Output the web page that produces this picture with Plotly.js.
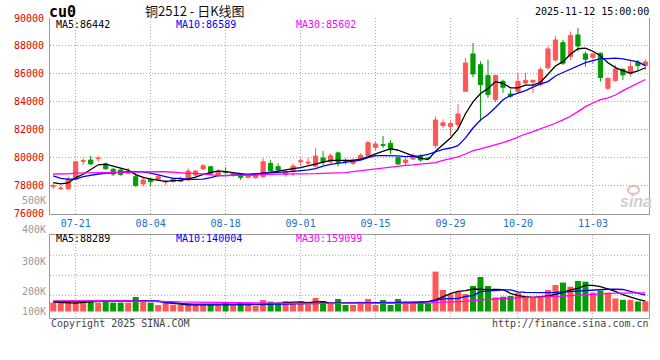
<!DOCTYPE html>
<html><head><meta charset="utf-8">
<script src="https://cdn.plot.ly/plotly-3.0.1.min.js"></script>
<style>html,body{margin:0;padding:0;background:#fff;}#chart{width:660px;height:360px;}</style>
</head><body><div id="chart"></div>
<script>
// ---------- data ----------
const dates = ['07-16','07-17','07-18','07-21','07-22','07-23','07-24','07-25','07-28','07-29','07-30','07-31',
'08-01','08-04','08-05','08-06','08-07','08-08','08-11','08-12','08-13','08-14','08-15','08-18','08-19','08-20','08-21','08-22','08-25','08-26','08-27','08-28','08-29',
'09-01','09-02','09-03','09-04','09-05','09-08','09-09','09-10','09-11','09-12','09-15','09-16','09-17','09-18','09-19','09-22','09-23','09-24','09-25','09-26','09-29','09-30',
'10-09','10-10','10-13','10-14','10-15','10-16','10-17','10-20','10-21','10-22','10-23','10-24','10-27','10-28','10-29','10-30','10-31',
'11-03','11-04','11-05','11-06','11-07','11-10','11-11','11-12'];
const openP = [77960,77800,77770,78480,79750,79840,79940,79560,79180,79130,78890,78650,78130,78480,78460,78270,78290,78300,78410,78770,79200,79360,78770,79000,78740,78720,78600,78580,78650,79600,79370,78800,79010,79720,79620,79400,79990,79700,80350,79790,79600,79940,80130,80750,80940,81040,80010,79650,79910,80130,79980,80870,82300,82250,82380,84760,87430,86660,85880,84160,85470,84570,84760,85350,85420,85230,86440,87000,88240,87240,88790,87430,87190,87480,84970,85520,86330,86040,86830,86620];
const highP = [78170,77980,78650,79770,79960,80130,80130,79650,79290,79220,79270,78890,78650,78530,78720,78410,78580,78650,79240,79130,79560,79420,79170,79320,78960,78780,78780,78890,79960,79840,79600,79100,79600,80000,79980,80700,80480,80320,80440,79960,79960,80320,81200,81150,81560,81270,80080,80010,80320,80250,80080,82940,82750,82600,83850,87140,88210,86900,87020,85950,85590,84880,86070,86070,85590,86470,87980,88720,88430,89030,89290,87600,87520,87520,85740,86640,86400,86880,87000,87050];
const lowP = [77770,77700,77770,78460,79490,79490,79720,79130,78700,78720,78840,77940,77940,77980,78360,78050,78220,78270,78340,78650,79130,78750,78650,78840,78650,78420,78530,78500,78580,78950,78950,78650,78700,79400,79480,79360,79480,79600,79370,79530,79480,79840,80080,80560,80680,80250,79490,79480,79840,79720,79840,80680,82150,81560,82130,84710,85760,82610,84280,83990,84640,84280,84640,85230,84640,85110,86290,86880,86640,87000,87600,86520,86710,85450,84850,85450,85570,85810,86280,86280];
const closeP = [78000,77820,78460,79720,79780,79560,79970,79220,78840,78800,79030,78010,78410,78290,78650,78300,78480,78460,79050,79050,79430,78900,79010,78960,78900,78600,78700,78760,79720,79050,79130,79020,79410,79780,79680,80130,79700,80140,79670,79760,79840,80180,81080,80990,80900,80560,79560,79840,80150,79840,79950,82700,82500,82450,83130,86780,86000,85230,84520,85880,85040,84400,85470,85540,85540,86310,87790,88430,86760,88740,88000,87050,87430,85740,85690,86350,85930,86520,86590,86860];
const ma5 = [78220,78130,78200,78580,78820,79160,79500,79550,79420,79250,79120,78800,78600,78480,78420,78310,78360,78390,78490,78610,78820,78960,79060,79010,78940,78820,78790,78800,78910,78950,79050,79130,79230,79290,79420,79590,79710,79820,79820,79830,79820,79900,80060,80280,80490,80650,80540,80320,80140,79980,79870,80470,80950,81420,82050,83150,84000,84600,84950,85450,85330,85000,85000,85200,85200,85400,85980,86570,86880,87400,87800,87850,87620,87300,86800,86450,86240,86050,86210,86442];
const ma10 = [78700,78530,78480,78480,78650,78770,78840,78890,78940,78970,79010,79010,78990,78910,78790,78630,78530,78530,78460,78460,78480,78580,78720,78720,78750,78770,78790,78820,78870,78890,78940,78990,79030,79060,79130,79220,79410,79530,79610,79650,79750,79840,80010,80150,80150,80150,80130,80080,80110,80130,80250,80420,80610,80700,80870,81420,82130,82700,83100,83600,84150,84450,84600,84800,85050,85280,85450,85850,86100,86330,86560,86800,86950,87100,87100,87130,87080,86980,86860,86589];
const ma30 = [78840,78840,78850,78900,78910,78910,78930,78980,78990,78990,78990,78990,78990,79010,79010,79000,78960,78900,78890,78890,78870,78800,78720,78720,78740,78740,78740,78770,78820,78820,78820,78840,78840,78840,78840,78870,78890,78890,78910,78940,79010,79080,79150,79220,79290,79340,79410,79460,79490,79530,79580,79650,79820,79940,80060,80270,80510,80630,80770,80920,81080,81270,81510,81700,81870,82060,82280,82470,82710,82970,83300,83660,83920,84160,84280,84490,84800,85050,85330,85602];
const volume = [76000,76000,90000,90000,90000,99000,76000,99000,76000,76000,76000,125000,99000,76000,56000,76000,58000,56000,70000,56000,56000,56000,56000,70000,56000,70000,70000,47000,99000,84000,76000,90000,76000,90000,62000,116000,90000,76000,107000,56000,56000,84000,107000,56000,99000,56000,107000,84000,84000,84000,70000,342000,185000,147000,167000,150000,219000,296000,219000,122000,127000,133000,162000,122000,122000,122000,185000,228000,248000,213000,262000,256000,162000,179000,162000,112000,100000,100000,86000,86000];
const volMa5 = [81000,80000,74000,72000,78000,85000,87000,88000,88000,86000,84000,90000,92000,90000,86000,76000,68000,60000,58000,56000,56000,56000,56000,57000,57000,60000,60000,57000,60000,66000,72000,78000,80000,80000,76000,82000,84000,72000,72000,72000,70000,70000,70000,73000,76000,76000,76000,76000,76000,81000,84000,99000,127000,153000,173000,179000,193000,188000,188000,190000,187000,156000,136000,127000,122000,127000,133000,147000,162000,185000,199000,225000,225000,213000,196000,173000,144000,122000,104000,88289];
const volMa10 = [87000,87000,87000,87000,89000,91000,93000,93000,93000,93000,93000,93000,93000,93000,90000,80000,74000,66000,64000,64000,64000,64000,64000,64000,63000,63000,62000,60000,59000,59000,59000,64000,66000,67000,67000,68000,68000,72000,74000,76000,76000,76000,76000,78000,81000,81000,81000,81000,81000,81000,82000,95000,108000,110000,112000,130000,136000,170000,176000,178000,185000,185000,168000,165000,162000,162000,162000,164000,168000,172000,178000,180000,182000,190000,191000,191000,189000,172000,155000,140004];
const volMa30 = [92000,91000,91000,90000,90000,90000,90000,90000,90000,90000,90000,90000,90000,90000,90000,88000,85000,82000,81000,81000,80000,77000,74000,73000,73000,73000,72000,70000,68000,67000,67000,68000,69000,70000,70000,70000,70000,70000,70000,70000,69000,69000,69000,69000,69000,70000,70000,70000,70000,70000,70000,79000,83000,84000,85000,87000,95000,100000,103000,109000,112000,114000,116000,120000,122000,124000,127000,129000,132000,137000,141000,148000,151000,155000,157000,158000,158000,159000,159000,159099];
const xTickDates = ['07-21','08-04','08-18','09-01','09-15','09-29','10-20','11-03'];
const priceTicks = [76000,78000,80000,82000,84000,86000,88000,90000];
const volTickLabels = ['500K','400K','300K','200K','100K'];
const priceMaLegend = [86442,86589,85602];
const volMaLegend = [88289,140004,159099];
const maNames = ['MA5','MA10','MA30'];
const symbol = 'cu0';
const titleText = '铜2512 - 日K线图';
const stamp = '2025-11-12 15:00:00';

// ---------- styling / layout ----------
const RED = '#ff5656', GREEN = '#009e00';
const MA_COLORS = ['#000000','#0000ff','#ff00ff'];
const MONO = 'DejaVu Sans Mono';
const GRID = '#ababab', BORDER = '#9a9a9a';
const L = 50, R = 649, T = 18, B = 318;
const px = x => (x - L) / (R - L);
const py = y => (B - y) / (B - T);
const idx = dates.map((d, i) => i);
const tickIdx = xTickDates.map(d => dates.indexOf(d));
const volColors = closeP.map((c, i) => c >= openP[i] ? RED : GREEN);

const traces = [
  {type:'candlestick', x: idx, open: openP, high: highP, low: lowP, close: closeP,
   xaxis:'x', yaxis:'y', whiskerwidth: 0, hoverinfo:'skip', showlegend:false,
   increasing:{line:{color:RED, width:1}, fillcolor:RED},
   decreasing:{line:{color:GREEN, width:1}, fillcolor:GREEN}},
];
[ma5, ma10, ma30].forEach((s, k) => traces.push({type:'scatter', mode:'lines', x: idx, y: s,
   xaxis:'x', yaxis:'y', line:{color: MA_COLORS[k], width:1.3}, hoverinfo:'skip', showlegend:false}));
traces.push({type:'bar', x: idx, y: volume, xaxis:'x2', yaxis:'y2', width:0.8,
   marker:{color: volColors, line:{width:0}}, hoverinfo:'skip', showlegend:false});
[volMa5, volMa10, volMa30].forEach((s, k) => traces.push({type:'scatter', mode:'lines', x: idx, y: s,
   xaxis:'x2', yaxis:'y2', line:{color: MA_COLORS[k], width:1.3}, hoverinfo:'skip', showlegend:false}));

const xRange = [-0.43, 79.48];
const ann = [];
const txt = (text, x, y, xanchor, color, size, extra) => ann.push(Object.assign({
  text, x, y, xref:'paper', yref:'paper', xanchor, yanchor:'middle', showarrow:false,
  font:{family: MONO, size: size, color: color}, borderpad:0}, extra || {}));
txt('<b>' + symbol + '</b>', px(48), py(12), 'left', '#000', 15);
ann.push({text: titleText, x: px(195), y: py(11), xref:'paper', yref:'paper', xanchor:'center', yanchor:'middle',
  showarrow:false, borderpad:0, font:{family:'Noto Sans CJK SC', size:13, color:'#111'}});
txt(stamp, px(649.5), py(12), 'right', '#000', 10);
const legX = [55, 174.5, 294.5];
maNames.forEach((n, k) => {
  txt(n + ':' + priceMaLegend[k], px(legX[k]), py(24), 'left', MA_COLORS[k], 10);
  txt(n + ':' + volMaLegend[k], px(legX[k]), py(238.5), 'left', MA_COLORS[k], 10);
});
const volLabelY = [200.8, 229.5, 261.3, 291, 311];
volTickLabels.forEach((t, k) => txt(t, px(46.5), py(volLabelY[k]), 'right', '#9a9a9a', 10));
txt('Copyright 2025 SINA.COM', px(49.5), py(323.5), 'left', '#444', 10);
txt('http://finance.sina.com.cn', px(649.8), py(323.5), 'right', '#444', 10);
ann.push({text:'<i><b>sina</b></i>', x: px(636), y: py(201), xref:'paper', yref:'paper', showarrow:false,
  xanchor:'center', yanchor:'middle', borderpad:0, font:{family:'Liberation Sans', size:16, color:'#cfcfcf'}});

const shapes = [255.3, 275.3, 295.3].map(y => ({type:'line', xref:'paper', yref:'paper',
  x0:0, x1:1, y0:py(y), y1:py(y), line:{color:GRID, width:1, dash:'1px,2px'}, layer:'below'}));
shapes.push({type:'circle', xref:'paper', yref:'paper', x0:px(628), x1:px(639), y0:py(194), y1:py(186),
  line:{color:'#f2b8b8', width:2}, layer:'below'});

const layout = {
  width:660, height:360, margin:{l:L, r:660-R, t:T, b:360-B, pad:0},
  paper_bgcolor:'#fff', plot_bgcolor:'#fff', showlegend:false, hovermode:false, boxgap:0.2,
  xaxis:{domain:[0,1], anchor:'y', range:xRange, tickvals:tickIdx, ticktext:xTickDates,
    showgrid:true, gridcolor:GRID, griddash:'1px,2px', gridwidth:1, zeroline:false,
    showline:true, linecolor:BORDER, linewidth:1, mirror:false, ticks:'',
    tickfont:{family:MONO, size:10, color:'#1a70c8'}, rangeslider:{visible:false}, fixedrange:true},
  yaxis:{domain:[py(213.7),1], anchor:'x', range:[priceTicks[0], priceTicks[priceTicks.length-1]],
    tickvals:priceTicks, tickformat:'d', showgrid:true, gridcolor:GRID, griddash:'1px,2px', zeroline:false,
    showline:true, linecolor:BORDER, linewidth:1, mirror:true, ticks:'', ticklabelstandoff:3,
    tickfont:{family:MONO, size:10, color:'#e60000'}, fixedrange:true},
  xaxis2:{domain:[0,1], anchor:'y2', range:xRange, tickvals:tickIdx, showticklabels:false,
    showgrid:true, gridcolor:GRID, griddash:'1px,2px', zeroline:false,
    showline:true, linecolor:BORDER, linewidth:1, mirror:true, ticks:'', fixedrange:true},
  yaxis2:{domain:[0, py(234.7)], anchor:'x2', range:[-55800, 659200], showgrid:false, zeroline:false,
    showticklabels:false, showline:true, linecolor:BORDER, linewidth:1, mirror:true, ticks:'', fixedrange:true},
  annotations: ann, shapes: shapes
};
Plotly.newPlot('chart', traces, layout, {displayModeBar:false, staticPlot:true});
</script>
</body></html>
